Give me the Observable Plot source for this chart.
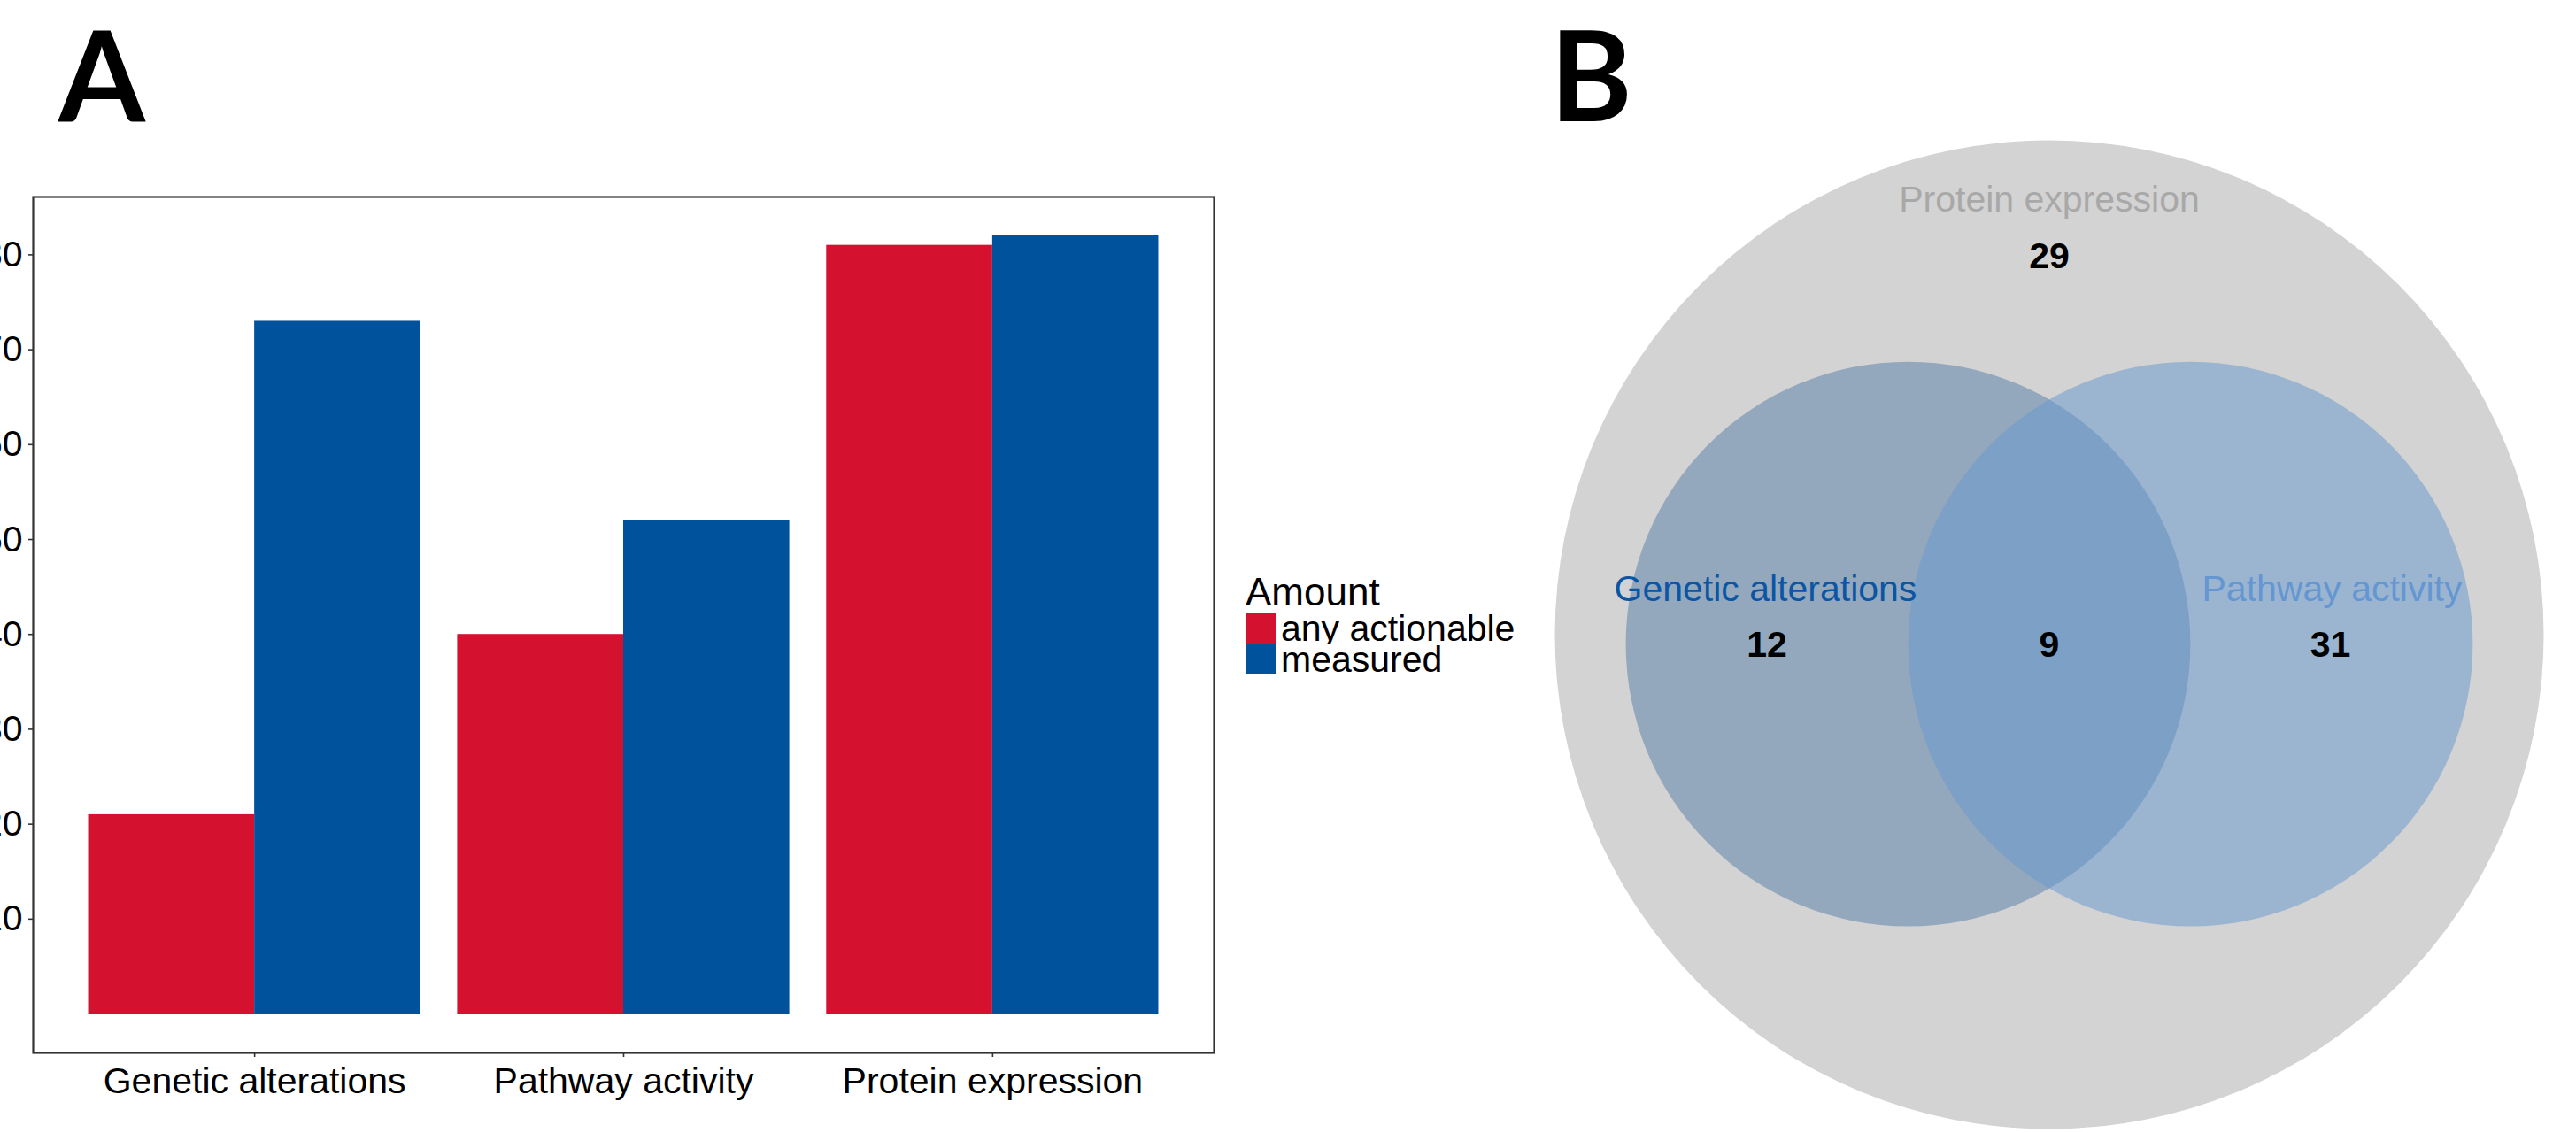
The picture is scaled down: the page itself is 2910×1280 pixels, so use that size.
<!DOCTYPE html>
<html>
<head>
<meta charset="utf-8">
<script src="https://cdn.jsdelivr.net/npm/d3@7"></script>
<script src="https://cdn.jsdelivr.net/npm/@observablehq/plot@0.6"></script>
<style>
  html, body { margin: 0; padding: 0; background: #fff; }
  body { width: 2910px; height: 1280px; overflow: hidden; position: relative; }
  .abs { position: absolute; }
  .panel-label { font-family: Lato, "Open Sans", sans-serif; font-weight: 700; font-size: 141px; line-height: 1; color: #000; }
  .legend-title { font-family: "Liberation Sans", Arial, sans-serif; font-size: 44px; line-height: 1; color: #000; }
  .amt-swatch > svg { margin-right: 6px !important; }
  svg { overflow: hidden; }
</style>
</head>
<body>
<div id="panelA" class="abs" style="left:0;top:0;width:1380px;height:1280px;"></div>
<div id="panelB" class="abs" style="left:1380px;top:0;width:1530px;height:1280px;"></div>
<div class="abs panel-label" style="left:66px;top:12px;">A</div>
<div class="abs panel-label" style="left:1751px;top:12px;">B</div>
<div class="abs legend-title" style="left:1407px;top:647px;">Amount</div>
<div id="legend" class="abs" style="left:1407px;top:693px;width:400px;"></div>
<script>
// ---------- Data (Panel A) ----------
const categories = ["Genetic alterations", "Pathway activity", "Protein expression"];
const amounts = ["any actionable", "measured"];
const anyActionable = [21, 40, 81];
const measured = [73, 52, 82];
const yTicks = [10, 20, 30, 40, 50, 60, 70, 80];
const amountColors = ["#D4112F", "#00529C"];

// ---------- Data (Panel B) ----------
const vennSets = ["Protein expression", "Genetic alterations", "Pathway activity"];
const vennSetColors = ["#a8a8a8", "#0b55a5", "#6496d2"];
const vennRegions = ["Protein expression only", "Genetic alterations", "Genetic alterations & Pathway activity", "Pathway activity"];
const vennCounts = [29, 12, 9, 31];

// ---------- Layout (positions / sizes, not data) ----------
const fontFamily = "'Liberation Sans', Arial, Helvetica, sans-serif";
const dodgeWidth = 0.9;          // total width of a dodged group (in category steps)
const axisExpand = 0.6;          // discrete-axis expansion on each side
const vennCircleLayout = [ // in Venn units (outer circle radius = 1)
  {cx: 0, cy: 0, r: 1, fill: "#d3d3d3"},
  {cx: -0.2856, cy: -0.019, r: 0.571, fill: "#94a8bd"},
  {cx: 0.2856, cy: -0.019, r: 0.571, fill: "rgba(100,151,207,0.5)"}
];
const vennSetLabelPos = [{x: 0, y: 0.879}, {x: -0.574, y: 0.092}, {x: 0.572, y: 0.092}];
const vennCountPos = [{x: 0, y: 0.765}, {x: -0.571, y: -0.021}, {x: 0, y: -0.021}, {x: 0.5685, y: -0.021}];

// ---------- Panel A ----------
const nA = amounts.length;
const barData = categories.flatMap((c, i) => [anyActionable[i], measured[i]].map((v, j) => ({
  category: c,
  amount: amounts[j],
  value: v,
  x1: (i + 1) - dodgeWidth / 2 + j * dodgeWidth / nA,
  x2: (i + 1) - dodgeWidth / 2 + (j + 1) * dodgeWidth / nA
})));
const catTicks = categories.map((c, i) => i + 1);

const chartA = Plot.plot({
  width: 1380,
  height: 1280,
  marginLeft: 37,
  marginRight: 9,
  marginTop: 222,
  marginBottom: 91,
  style: {fontFamily, fontSize: "41px", color: "#000", background: "transparent"},
  x: {domain: [1 - axisExpand, categories.length + axisExpand], label: null},
  y: {domain: [-4.1, 86.1], label: null},
  color: {domain: amounts, range: amountColors},
  marks: [
    Plot.rectY(barData, {x1: "x1", x2: "x2", y1: 0, y2: "value", fill: "amount"}),
    Plot.frame({stroke: "#333", strokeWidth: 2.2}),
    Plot.axisY({ticks: yTicks, tickSize: 5, tickPadding: 7, fontSize: 41, stroke: "#333", strokeWidth: 1.6, fill: "#000", label: null}),
    Plot.axisX({ticks: catTicks, tickFormat: (d) => categories[d - 1], tickSize: 5, tickPadding: 11, fontSize: 41, stroke: "#333", strokeWidth: 1.6, fill: "#000", label: null})
  ]
});
document.getElementById("panelA").appendChild(chartA);

const legend = Plot.legend({
  color: {domain: amounts, range: amountColors},
  columns: 1,
  swatchSize: 34,
  className: "amt",
  style: {fontFamily, fontSize: "41px", lineHeight: "34px", color: "#000", margin: "0"}
});
document.getElementById("legend").appendChild(legend);

// ---------- Panel B ----------
const vW = 1530, vH = 1280;
const vM = {left: 376, right: 37, top: 158, bottom: 5};
const pxPerUnit = (vW - vM.left - vM.right) / 2;

const setLabels = vennSets.map((s, i) => ({text: s, color: vennSetColors[i], ...vennSetLabelPos[i]}));
const countLabels = vennCounts.map((n, i) => ({text: String(n), region: vennRegions[i], ...vennCountPos[i]}));

const chartB = Plot.plot({
  width: vW,
  height: vH,
  marginLeft: vM.left,
  marginRight: vM.right,
  marginTop: vM.top,
  marginBottom: vM.bottom,
  style: {fontFamily, background: "transparent"},
  x: {domain: [-1, 1], axis: null},
  y: {domain: [-1, 1], axis: null},
  r: {type: "linear", domain: [0, 1], range: [0, pxPerUnit]},
  color: {type: "identity"},
  marks: [
    Plot.dot(vennCircleLayout, {x: "cx", y: "cy", r: "r", fill: "fill"}),
    Plot.text(setLabels, {x: "x", y: "y", text: "text", fill: "color", fontSize: 41}),
    Plot.text(countLabels, {x: "x", y: "y", text: "text", fill: "#000", fontSize: 41, fontWeight: "bold"})
  ]
});
document.getElementById("panelB").appendChild(chartB);
</script>
</body>
</html>
